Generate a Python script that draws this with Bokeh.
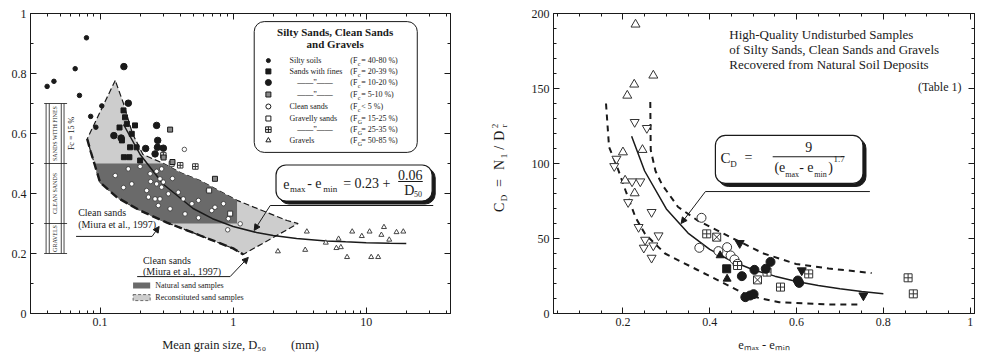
import math
from bokeh.plotting import figure
from bokeh.layouts import row
from bokeh.models import (FixedTicker, NumeralTickFormatter, LinearAxis, LogAxis,
                          Arrow, NormalHead, Range1d)
from bokeh.core.properties import value
from bokeh.embed import file_html
from bokeh.resources import INLINE

FONT = "Liberation Serif"
INK = "#1a1a1a"
DARK = "#6a6a6a"
LIGHT = "#cdcdcd"
NB = "\u00a0"

# ================= LEFT PANEL DATA =================
X_TICKS_L = [0.1, 1, 10]
X_MINOR_L = [0.04, 0.05, 0.06, 0.07, 0.08, 0.09, 0.2, 0.3, 0.4, 0.5, 0.6, 0.7, 0.8, 0.9,
             2, 3, 4, 5, 6, 7, 8, 9, 20, 30, 40]
Y_TICKS_L = [0, 0.2, 0.4, 0.6, 0.8, 1.0]
Y_MINOR_L = [0.1, 0.3, 0.5, 0.7, 0.9]

# silty soils (Fc = 40-80 %)
SILTY_D = [0.040, 0.045, 0.065, 0.070, 0.079, 0.085, 0.093, 0.103]
SILTY_E = [0.757, 0.774, 0.816, 0.727, 0.919, 0.657, 0.621, 0.692]
# sands with fines (Fc = 20-39 %)
F20_D = [0.150, 0.154, 0.159, 0.146, 0.151, 0.166, 0.173, 0.183, 0.168, 0.188, 0.140, 0.200]
F20_E = [0.677, 0.654, 0.632, 0.577, 0.521, 0.521, 0.599, 0.627, 0.554, 0.554, 0.620, 0.510]
# Fc = 10-20 %
F10_D = [0.151, 0.163, 0.127, 0.266, 0.271, 0.270, 0.299, 0.259, 0.144, 0.220]
F10_E = [0.823, 0.701, 0.593, 0.627, 0.577, 0.554, 0.551, 0.532, 0.585, 0.550]
# Fc = 5-10 %
F5_D = [0.336, 0.73, 0.30, 0.35]
F5_E = [0.613, 0.449, 0.520, 0.505]
# clean sands (Fc < 5 %)
CLEAN_D = [0.163, 0.238, 0.266, 0.290, 0.282, 0.299, 0.266, 0.173, 0.224, 0.290, 0.326, 0.231,
           0.259, 0.282, 0.387, 0.422, 0.490, 0.549, 0.274, 0.336, 0.435, 0.549, 0.690, 0.730,
           0.846, 0.920, 1.130, 0.430, 0.910, 0.650, 0.130, 0.200, 0.150, 0.350, 0.240]
CLEAN_E = [0.482, 0.466, 0.474, 0.482, 0.449, 0.438, 0.432, 0.432, 0.410, 0.421, 0.399, 0.388,
           0.382, 0.382, 0.404, 0.382, 0.366, 0.377, 0.360, 0.349, 0.332, 0.319, 0.343, 0.354,
           0.366, 0.316, 0.299, 0.547, 0.279, 0.410, 0.460, 0.490, 0.420, 0.450, 0.440]
# gravelly sands (FG = 15-25 %)
GS_D = [0.66, 0.345, 0.95]
GS_E = [0.41, 0.499, 0.333]
# gravelly sands (FG = 25-35 %)
GS35_D = [0.299, 0.40, 0.52]
GS35_E = [0.527, 0.494, 0.490]
# gravels (FG = 50-85 %)
GRAV_D = [3.58, 2.17, 3.48, 6.2, 5.97, 6.45, 7.85, 7.18, 9.27, 10.6, 10.9, 12.3, 13.0, 13.6,
          14.9, 16.9, 19.0, 4.97]
GRAV_E = [0.273, 0.207, 0.212, 0.249, 0.218, 0.221, 0.273, 0.188, 0.258, 0.273, 0.188, 0.188,
          0.262, 0.288, 0.246, 0.271, 0.273, 0.236]

# fitted curve  e_max - e_min = 0.23 + 0.06 / D50
FIT_D = [0.15, 0.2, 0.3, 0.5, 0.7, 1, 1.5, 2, 3, 5, 7, 10, 15, 20]
FIT_E = [0.63, 0.53, 0.43, 0.35, 0.316, 0.29, 0.27, 0.26, 0.25, 0.242, 0.239, 0.236, 0.234, 0.233]

# shaded zones
LIGHT_D = [0.13, 0.08, 0.085, 0.092, 0.1, 0.134, 0.2, 0.318, 0.565, 1.0, 1.19, 3.08, 2.54,
           1.07, 0.565, 0.4, 0.3, 0.21, 0.175, 0.15]
LIGHT_E = [0.777, 0.582, 0.54, 0.49, 0.437, 0.387, 0.343, 0.303, 0.26, 0.217, 0.197, 0.30, 0.31,
           0.377, 0.443, 0.47, 0.5, 0.53, 0.60, 0.70]
DARK_D = [0.09, 0.1, 0.134, 0.2, 0.3, 0.33, 1.07, 1.07, 0.565, 0.4, 0.3]
DARK_E = [0.5, 0.437, 0.387, 0.343, 0.306, 0.3, 0.3, 0.377, 0.443, 0.47, 0.5]
LOWER_D = [0.08, 0.085, 0.092, 0.1, 0.134, 0.2, 0.318, 0.565, 1.0, 1.19]
LOWER_E = [0.582, 0.54, 0.49, 0.437, 0.387, 0.343, 0.303, 0.26, 0.217, 0.197]

LEG_NAMES = ["Silty soils", "Sands with fines", "\u2014\u2014\u201d\u2014\u2014",
             "\u2014\u2014\u201d\u2014\u2014", "Clean sands", "Gravelly sands",
             "\u2014\u2014\u201d\u2014\u2014", "Gravels"]
LEG_SUB = ["c", "c", "c", "c", "c", "G", "G", "G"]
LEG_RANGE = [" = 40-80 %)", " = 20-39 %)", " = 10-20 %)", " = 5-10 %)", " < 5 %)",
             " = 15-25 %)", " = 25-35 %)", " = 50-85 %)"]

# ================= RIGHT PANEL DATA =================
X_TICKS_R = [0.2, 0.4, 0.6, 0.8, 1.0]
X_MINOR_R = [0.05, 0.1, 0.15, 0.25, 0.3, 0.35, 0.45, 0.5, 0.55, 0.65, 0.7, 0.75, 0.85, 0.9, 0.95]
Y_TICKS_R = [0, 50, 100, 150, 200]
Y_MINOR_R = [10, 20, 30, 40, 60, 70, 80, 90, 110, 120, 130, 140, 160, 170, 180, 190]

R_TRI_E = [0.229, 0.270, 0.226, 0.210, 0.200, 0.245, 0.205, 0.227]
R_TRI_C = [192.7, 158.7, 152.7, 145.3, 107.5, 109.1, 88.7, 80.2]
R_ITRI_E = [0.185, 0.180, 0.227, 0.255, 0.221, 0.240, 0.212, 0.236, 0.266, 0.251, 0.248,
            0.270, 0.282, 0.266]
R_ITRI_C = [103.1, 98.2, 127.6, 123.6, 88.0, 88.0, 74.2, 57.6, 67.6, 49.1, 43.8, 45.3, 52.0, 37.1]
R_CLEAN_E = [0.381, 0.376, 0.420, 0.440, 0.448, 0.457, 0.464]
R_CLEAN_C = [63.8, 43.8, 41.6, 44.2, 38.7, 36.0, 33.1]
R_GS35_E = [0.393, 0.464, 0.532, 0.628, 0.563, 0.857, 0.869]
R_GS35_C = [53.1, 32.0, 27.6, 26.4, 17.6, 23.8, 13.1]
R_GS_E = [0.416, 0.510]
R_GS_C = [50.9, 22.4]
R_F10_E = [0.474, 0.503, 0.540, 0.529, 0.603, 0.606, 0.493, 0.482, 0.501]
R_F10_C = [24.9, 29.1, 34.4, 29.8, 22.0, 20.4, 12.0, 10.9, 12.9]
R_F20_E = [0.439]
R_F20_C = [29.8]
R_FTRI_E = [0.440, 0.424]
R_FTRI_C = [23.1, 38.7]
R_FITRI_E = [0.754, 0.612, 0.469]
R_FITRI_C = [12.0, 28.7, 46.9]

# C_D = 9 / (e_max - e_min)^1.7
R_FIT_E = [0.22, 0.25, 0.3, 0.35, 0.4, 0.45, 0.5, 0.55, 0.6, 0.65, 0.7, 0.75, 0.8]
R_FIT_C = [118.1, 95.0, 69.7, 53.6, 42.7, 35.0, 29.2, 24.9, 21.4, 18.7, 16.5, 14.7, 13.2]
R_HI_E = [0.263, 0.264, 0.275, 0.29, 0.327, 0.372, 0.447, 0.524, 0.599, 0.674, 0.773]
R_HI_C = [141, 109, 95, 86, 71, 62, 51, 40, 33, 30, 27]
R_LO_E = [0.161, 0.168, 0.187, 0.206, 0.229, 0.251, 0.297, 0.372, 0.488, 0.56, 0.674, 0.75]
R_LO_C = [140, 111, 97.5, 82, 64, 53, 40, 29, 12, 7.5, 6, 6]


# ================= helpers =================
def style_axis(ax, size="12px", standoff=4, alpha=1.0):
    ax.major_tick_in = 6
    ax.major_tick_out = 0
    ax.minor_tick_in = 3
    ax.minor_tick_out = 0
    ax.axis_line_color = INK
    ax.major_tick_line_color = INK
    ax.minor_tick_line_color = INK
    ax.major_label_text_font = FONT
    ax.major_label_text_font_size = size
    ax.major_label_text_color = INK
    ax.major_label_text_alpha = alpha
    ax.major_label_standoff = standoff


def txt(p, x, y, s, size, align="left", baseline="middle", angle=0.0, bold=False):
    p.text(x=[x], y=[y], text=[s], text_font=value(FONT), text_font_size=value(f"{size}px"),
           text_align=align, text_baseline=baseline, angle=angle, text_color=INK,
           text_font_style="bold" if bold else "normal")


def arrow(p, x0, y0, x1, y1):
    p.add_layout(Arrow(end=NormalHead(size=6, fill_color=INK, line_color=INK),
                       x_start=x0, y_start=y0, x_end=x1, y_end=y1,
                       line_color=INK, line_width=1))


def finish(p, xt, xm, yt, ym, xlabel, xlog=False):
    p.xgrid.visible = False
    p.ygrid.visible = False
    p.outline_line_color = INK
    bottom = p.below[0]
    left = p.left[0]
    bottom.ticker = FixedTicker(ticks=xt, minor_ticks=xm)
    left.ticker = FixedTicker(ticks=yt, minor_ticks=ym)
    bottom.formatter = NumeralTickFormatter(format="0.[0]")
    left.formatter = NumeralTickFormatter(format="0.[0]")
    style_axis(bottom)
    style_axis(left)
    bottom.axis_label = xlabel
    bottom.axis_label_text_font = FONT
    bottom.axis_label_text_font_size = "12.5px"
    bottom.axis_label_text_font_style = "normal"
    bottom.axis_label_text_color = INK
    bottom.axis_label_standoff = 9
    top = LogAxis() if xlog else LinearAxis()
    top.ticker = FixedTicker(ticks=xt, minor_ticks=xm)
    top.formatter = NumeralTickFormatter(format="0.[0]")
    style_axis(top, "2px", 0, 0.0)
    p.add_layout(top, "above")
    right = LinearAxis(ticker=FixedTicker(ticks=yt, minor_ticks=ym),
                       formatter=NumeralTickFormatter(format="0.[0]"))
    style_axis(right, "2px", 0, 0.0)
    p.add_layout(right, "right")


# ================= LEFT FIGURE =================
p1 = figure(x_axis_type="log", x_range=Range1d(0.03, 43), y_range=Range1d(0, 1),
            frame_width=420, frame_height=300, min_border_left=30, min_border_right=38,
            min_border_top=13, min_border_bottom=43, output_backend="svg",
            toolbar_location=None, background_fill_color="white", border_fill_color="white")

p1.patch(LIGHT_D, LIGHT_E, fill_color=LIGHT, line_color=INK, line_width=1.2, line_dash="6 3")
p1.patch(DARK_D, DARK_E, fill_color=DARK, line_color=None)
p1.line(LOWER_D, LOWER_E, line_color=INK, line_width=2.4, line_dash="8 4")
p1.line(FIT_D, FIT_E, line_color=INK, line_width=1.5)

p1.scatter(CLEAN_D, CLEAN_E, marker="circle", size=4.5, fill_color="white", line_color="#333", line_width=0.8)
p1.scatter(GS_D, GS_E, marker="square", size=5, fill_color="white", line_color="#333")
p1.scatter(GS35_D, GS35_E, marker="square_cross", size=5.5, fill_color="white", line_color="#333")
p1.scatter(F5_D, F5_E, marker="square", size=5, fill_color="#888", line_color=INK)
p1.scatter(SILTY_D, SILTY_E, marker="circle", size=4.5, fill_color=INK, line_color=INK)
p1.scatter(F20_D, F20_E, marker="square", size=5, fill_color=INK, line_color=INK)
p1.scatter(F10_D, F10_E, marker="circle", size=6.5, fill_color=INK, line_color=INK)
p1.scatter(GRAV_D, GRAV_E, marker="triangle", size=5, fill_color="white", line_color="#444")

# classification column
for xv in [0.0393, 0.0415, 0.0511, 0.0536]:
    p1.segment(x0=[xv], y0=[0.2], x1=[xv], y1=[0.7], line_color=INK, line_width=0.8)
for yv in [0.7, 0.5, 0.3, 0.2]:
    p1.segment(x0=[0.038], y0=[yv], x1=[0.0565], y1=[yv], line_color=INK, line_width=0.8)
txt(p1, 0.0461, 0.6, "SANDS WITH FINES", 6, align="center", angle=math.pi / 2)
txt(p1, 0.0461, 0.4, "CLEAN SANDS", 6, align="center", angle=math.pi / 2)
txt(p1, 0.0461, 0.25, "GRAVELS", 6, align="center", angle=math.pi / 2)
txt(p1, 0.0605, 0.6, "Fc = 15 %", 8, align="center", angle=math.pi / 2)

# legend box
p1.quad(left=[1.44], right=[24.2], top=[0.973], bottom=[0.537], fill_color="white",
        line_color=INK, line_width=1, border_radius=10)
txt(p1, 5.84, 0.94, "Silty Sands, Clean Sands", 11, align="center", bold=True)
txt(p1, 5.84, 0.898, "and Gravels", 11, align="center", bold=True)
LEG_Y = [0.843, 0.807, 0.770, 0.730, 0.690, 0.650, 0.613, 0.577]
LEG_MK = ["circle", "square", "circle", "square", "circle", "square", "square_cross", "triangle"]
LEG_SZ = [4, 5, 6, 5, 5, 5, 5.5, 5]
LEG_FC = [INK, INK, INK, "#888", "white", "white", "white", "white"]
for i in range(8):
    p1.scatter([1.84], [LEG_Y[i]], marker=LEG_MK[i], size=LEG_SZ[i], fill_color=LEG_FC[i], line_color=INK)
    if LEG_NAMES[i].startswith("\u2014"):
        txt(p1, 3.03, LEG_Y[i], LEG_NAMES[i], 8)
    else:
        txt(p1, 2.65, LEG_Y[i], LEG_NAMES[i], 8)
    txt(p1, 7.59, LEG_Y[i], "(F", 8)
    txt(p1, 8.63, LEG_Y[i] - 0.012, LEG_SUB[i], 6)
    txt(p1, 9.17, LEG_Y[i], LEG_RANGE[i], 8)

# formula box
p1.quad(left=[2.21], right=[33.0], top=[0.485], bottom=[0.365], fill_color=INK, line_color=INK,
        border_radius=10)
p1.quad(left=[2.1], right=[31.3], top=[0.495], bottom=[0.375], fill_color="white",
        line_color=INK, line_width=1.2, border_radius=10)
txt(p1, 2.38, 0.432, "e", 14)
txt(p1, 2.68, 0.415, "max", 9)
txt(p1, 3.60, 0.432, "- e", 14)
txt(p1, 4.75, 0.415, "min", 9)
txt(p1, 6.71, 0.432, "= 0.23 +", 14)
txt(p1, 21.4, 0.462, "0.06", 14, align="center")
p1.segment(x0=[17.4], y0=[0.44], x1=[26.6], y1=[0.44], line_color=INK, line_width=1)
txt(p1, 19.3, 0.41, "D", 14)
txt(p1, 22.9, 0.397, "50", 8)
p1.segment(x0=[1.90], y0=[0.36], x1=[31.9], y1=[0.36], line_color=INK, line_width=1)
arrow(p1, 1.90, 0.36, 1.44, 0.277)

# Miura et al. labels
txt(p1, 0.0684, 0.337, "Clean sands", 10)
txt(p1, 0.0684, 0.297, "(Miura et al., 1997)", 10)
p1.segment(x0=[0.066], y0=[0.257], x1=[0.246], y1=[0.257], line_color=INK, line_width=1)
arrow(p1, 0.246, 0.257, 0.278, 0.29)
txt(p1, 0.21, 0.177, "Clean sands", 10)
txt(p1, 0.21, 0.14, "(Miura et al., 1997)", 10)
p1.segment(x0=[0.19], y0=[0.123], x1=[0.949], y1=[0.123], line_color=INK, line_width=1)
arrow(p1, 0.949, 0.123, 1.30, 0.187)

# zone legend
p1.quad(left=[0.177], right=[0.238], top=[0.103], bottom=[0.083], fill_color=DARK, line_color=None)
p1.quad(left=[0.177], right=[0.238], top=[0.063], bottom=[0.043], fill_color=LIGHT,
        line_color=INK, line_width=0.6, line_dash="3 2")
txt(p1, 0.26, 0.093, "Natural sand samples", 8)
txt(p1, 0.26, 0.053, "Reconstituted sand samples", 8)

finish(p1, X_TICKS_L, X_MINOR_L, Y_TICKS_L, Y_MINOR_L,
       "Mean grain size, D\u2085\u2080" + NB * 8 + "(mm)", xlog=True)

# ================= Y-LABEL STRIP for the right panel =================
pl = figure(x_range=Range1d(0, 20), y_range=Range1d(0, 200),
            frame_width=20, frame_height=300, min_border_left=0, min_border_right=0,
            min_border_top=13, min_border_bottom=43, output_backend="svg",
            toolbar_location=None, x_axis_location=None, y_axis_location=None,
            background_fill_color="white", border_fill_color="white")
pl.outline_line_color = None
pl.xgrid.visible = False
pl.ygrid.visible = False
HALF = math.pi / 2
txt(pl, 11, 70.7, "C", 14, align="center", angle=HALF)
txt(pl, 15, 77.0, "D", 9, align="center", angle=HALF)
txt(pl, 11, 87.0, "=", 14, align="center", angle=HALF)
txt(pl, 11, 99.0, "N", 14, align="center", angle=HALF)
txt(pl, 15, 105.0, "1", 9, align="center", angle=HALF)
txt(pl, 11, 110.5, "/", 14, align="center", angle=HALF)
txt(pl, 11, 118.5, "D", 14, align="center", angle=HALF)
txt(pl, 15, 125.0, "r", 9, align="center", angle=HALF)
txt(pl, 6, 125.0, "2", 9, align="center", angle=HALF)

# ================= RIGHT FIGURE =================
p2 = figure(x_range=Range1d(0.04, 1.01), y_range=Range1d(0, 200),
            frame_width=421, frame_height=300, min_border_left=45, min_border_right=5,
            min_border_top=13, min_border_bottom=43, output_backend="svg",
            toolbar_location=None, background_fill_color="white", border_fill_color="white")

p2.line(R_HI_E, R_HI_C, line_color=INK, line_width=2, line_dash="6 5")
p2.line(R_LO_E, R_LO_C, line_color=INK, line_width=2, line_dash="6 5")
p2.line(R_FIT_E, R_FIT_C, line_color=INK, line_width=1.5)

p2.scatter(R_TRI_E, R_TRI_C, marker="triangle", size=9, fill_color="white", line_color="#333")
p2.scatter(R_ITRI_E, R_ITRI_C, marker="inverted_triangle", size=9, fill_color="white", line_color="#333")
p2.scatter(R_CLEAN_E, R_CLEAN_C, marker="circle", size=9, fill_color="white", line_color="#333")
p2.scatter(R_GS35_E, R_GS35_C, marker="square_cross", size=8, fill_color="white", line_color="#333")
p2.scatter(R_GS_E, R_GS_C, marker="square_x", size=8, fill_color="white", line_color="#333")
p2.scatter(R_F10_E, R_F10_C, marker="circle", size=9, fill_color=INK, line_color=INK)
p2.scatter(R_F20_E, R_F20_C, marker="square", size=8, fill_color=INK, line_color=INK)
p2.scatter(R_FTRI_E, R_FTRI_C, marker="triangle", size=8, fill_color=INK, line_color=INK)
p2.scatter(R_FITRI_E, R_FITRI_C, marker="inverted_triangle", size=9, fill_color=INK, line_color=INK)

txt(p2, 0.445, 186, "High-Quality Undisturbed Samples", 13)
txt(p2, 0.445, 176, "of Silty Sands, Clean Sands and Gravels", 13)
txt(p2, 0.445, 166, "Recovered from Natural Soil Deposits", 13)
txt(p2, 0.98, 151, "(Table 1)", 12, align="right")

p2.quad(left=[0.42], right=[0.76], top=[116.7], bottom=[84.7], fill_color=INK, line_color=INK,
        border_radius=10)
p2.quad(left=[0.413], right=[0.753], top=[118.7], bottom=[86.7], fill_color="white",
        line_color=INK, line_width=1.2, border_radius=10)
txt(p2, 0.425, 104, "C", 15)
txt(p2, 0.447, 100, "D", 9)
txt(p2, 0.48, 104, "=", 14)
txt(p2, 0.628, 111, "9", 14, align="center")
p2.segment(x0=[0.545], y0=[104.5], x1=[0.71], y1=[104.5], line_color=INK, line_width=1)
txt(p2, 0.549, 97.5, "(e", 14)
txt(p2, 0.574, 93, "max", 8)
txt(p2, 0.606, 97.5, "- e", 14)
txt(p2, 0.641, 93, "min", 8)
txt(p2, 0.673, 97.5, ")", 14)
txt(p2, 0.685, 103, "1.7", 9)
p2.segment(x0=[0.39], y0=[81.3], x1=[0.769], y1=[81.3], line_color=INK, line_width=1)
arrow(p2, 0.39, 81.3, 0.334, 60)

finish(p2, X_TICKS_R, X_MINOR_R, Y_TICKS_R, Y_MINOR_R, "e\u2098\u2090\u2093 - e\u2098\u1d62\u2099")

layout = row(p1, pl, p2)
open("out.html", "w").write(file_html(layout, INLINE))
